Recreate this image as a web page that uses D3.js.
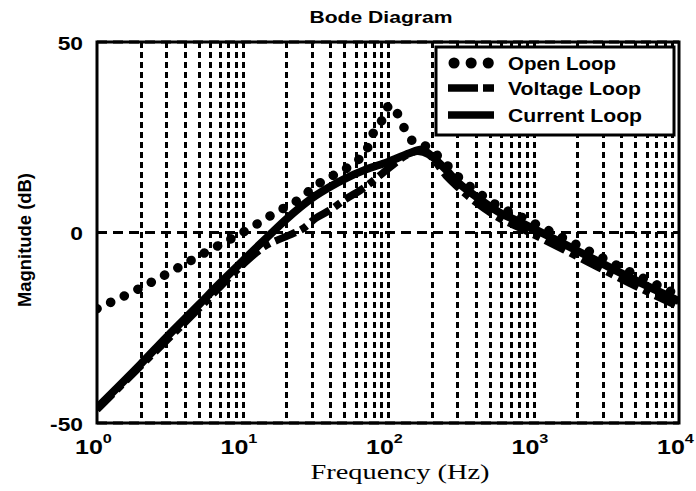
<!DOCTYPE html>
<html>
<head>
<meta charset="utf-8">
<script src="https://cdn.jsdelivr.net/npm/d3@7"></script>
<style>
html,body{margin:0;padding:0;background:#fff;}
svg{display:block;}
</style>
</head>
<body>
<svg id="chart" width="696" height="491"></svg>
<script>
// ---- data ----
const title = "Bode Diagram";
const xLabel = "Frequency (Hz)";
const yLabel = "Magnitude (dB)";
const xTickExps = [0, 1, 2, 3, 4];
const yTicks = [-50, 0, 50];
const seriesNames = ["Open Loop", "Voltage Loop", "Current Loop"];

const openFreq = [1, 2, 3.7, 5.7, 8.2, 10, 13.6, 17, 23, 29, 34, 47, 60, 72, 79, 91, 103, 117, 131, 148, 170, 200, 250, 300, 400, 600, 800, 1000, 2000, 5000, 10000];
const openMag  = [-20, -14.5, -9, -5, -1.8, 0, 3, 5.3, 8, 11, 13, 16, 18.5, 22, 26, 29.5, 33.5, 31, 27, 24, 23.3, 21.5, 18, 14.8, 11, 6.5, 4.3, 2.5, -3.3, -11, -16.5];

const voltFreq = [1, 2, 5, 10, 14, 20, 26, 32, 40, 50, 70, 92, 110, 130, 160, 190, 250, 300, 400, 600, 800, 1000, 2000, 5000, 10000];
const voltMag  = [-46.5, -35, -20, -8.5, -3.8, -1, 1, 3.8, 5.9, 8.5, 12, 15.6, 18, 20, 21.3, 20.5, 15, 12, 8, 3.5, 1.3, -0.5, -6.3, -14, -19.5];

const currFreq = [1, 2, 3, 5, 7, 10, 15, 20, 30, 40, 50, 70, 100, 140, 170, 200, 250, 300, 400, 600, 800, 1000, 2000, 5000, 10000];
const currMag  = [-46, -34.5, -27.5, -19, -13.3, -7.5, -1, 3.5, 9, 12, 14, 16.5, 18.5, 20.8, 21.8, 20, 16.5, 13.3, 9.5, 5, 2.8, 1, -4.8, -12.5, -18];

// ---- layout ----
const svg = d3.select("#chart");
const X0 = 97, X1 = 679, Y0 = 42, Y1 = 423;
const x = d3.scaleLog().domain([1, 1e4]).range([X0, X1]);
const y = d3.scaleLinear().domain([-50, 50]).range([Y1, Y0]);
const SANS = "'Liberation Sans', Arial, Helvetica, sans-serif";
const SERIF = "'Liberation Serif', 'Times New Roman', serif";

svg.append("defs").append("clipPath").attr("id", "plotclip")
  .append("rect").attr("x", X0).attr("y", Y0).attr("width", X1 - X0).attr("height", Y1 - Y0);

// grid
const gridG = svg.append("g");
const vGrid = x.ticks().filter(v => v > 1 && v < 1e4);
gridG.selectAll("line.v").data(vGrid).enter().append("line")
  .attr("x1", d => Math.round(x(d)) + 0.5).attr("x2", d => Math.round(x(d)) + 0.5)
  .attr("y1", Y0).attr("y2", Y1)
  .attr("stroke", "#000").attr("stroke-width", 3)
  .attr("stroke-dasharray", "6,4");
gridG.selectAll("line.h").data(yTicks).enter().append("line")
  .attr("x1", X0).attr("x2", X1)
  .attr("y1", d => y(d)).attr("y2", d => y(d))
  .attr("stroke", "#000").attr("stroke-width", 3)
  .attr("stroke-dasharray", "10,6");

// curves
const line = d3.line().x(d => x(d[0])).y(d => y(d[1])).curve(d3.curveMonotoneX);
const plotG = svg.append("g").attr("clip-path", "url(#plotclip)");
const styles = [
  {dash: "0.1,15", width: 9.5, cap: "round"},
  {dash: "22,6,7,6", width: 7.5, cap: "butt"},
  {dash: null, width: 8, cap: "butt"}
];
const series = [
  d3.zip(openFreq, openMag),
  d3.zip(voltFreq, voltMag),
  d3.zip(currFreq, currMag)
];
[2, 1, 0].forEach(i => {
  const p = plotG.append("path").datum(series[i])
    .attr("d", line).attr("fill", "none")
    .attr("stroke", "#000").attr("stroke-width", styles[i].width)
    .attr("stroke-linecap", styles[i].cap).attr("stroke-linejoin", "round");
  if (styles[i].dash) p.attr("stroke-dasharray", styles[i].dash);
});

// axes box
svg.append("rect").attr("x", X0).attr("y", Y0).attr("width", X1 - X0).attr("height", Y1 - Y0)
  .attr("fill", "none").attr("stroke", "#000").attr("stroke-width", 3);

// y axis labels
const yAxis = d3.axisLeft(y).tickValues(yTicks).tickSize(0).tickFormat(d => String(d));
const yg = svg.append("g").attr("transform", `translate(${X0},0)`).call(yAxis);
yg.select(".domain").remove();
yg.selectAll(".tick text")
  .attr("x", 0).attr("dy", null).attr("y", 0)
  .attr("text-anchor", "end")
  .attr("font-family", SANS).attr("font-weight", "bold").attr("font-size", 19)
  .attr("fill", "#000")
  .attr("transform", "translate(-14,7) scale(1.2,1)");

// x axis labels
const xTicks = xTickExps.map(e => Math.pow(10, e));
const xAxis = d3.axisBottom(x).tickValues(xTicks).tickSize(0).tickFormat(() => "");
const xg = svg.append("g").attr("transform", `translate(0,${Y1})`).call(xAxis);
xg.select(".domain").remove();
xg.selectAll(".tick").each(function(d, i) {
  const t = d3.select(this).append("text")
    .attr("transform", "translate(-4,31) scale(1.25,1)")
    .attr("text-anchor", "middle")
    .attr("font-family", SANS).attr("font-weight", "bold").attr("font-size", 20)
    .attr("fill", "#000");
  t.append("tspan").text("10");
  t.append("tspan").attr("dy", -11).attr("font-size", 13).text(String(xTickExps[i]));
});

// titles
svg.append("text").attr("x", 381).attr("y", 23).attr("text-anchor", "middle")
  .attr("font-family", SANS).attr("font-weight", "bold").attr("font-size", 17)
  .attr("textLength", 143).attr("lengthAdjust", "spacingAndGlyphs").text(title);
svg.append("text").attr("x", 400).attr("y", 479).attr("text-anchor", "middle")
  .attr("font-family", SERIF).attr("font-size", 21)
  .attr("textLength", 179).attr("lengthAdjust", "spacingAndGlyphs").text(xLabel);
svg.append("text").attr("transform", "translate(31,240) rotate(-90)").attr("text-anchor", "middle")
  .attr("font-family", SANS).attr("font-weight", "bold").attr("font-size", 19)
  .attr("textLength", 134).attr("lengthAdjust", "spacingAndGlyphs").text(yLabel);

// legend
const lg = svg.append("g");
lg.append("rect").attr("x", 436).attr("y", 47).attr("width", 238).attr("height", 88)
  .attr("fill", "#fff").attr("stroke", "#000").attr("stroke-width", 3);
const legY = [63, 88, 115];
const legW = [108, 133, 134];
seriesNames.forEach((name, i) => {
  const l = lg.append("line").attr("x1", i === 0 ? 454 : 448).attr("x2", i === 0 ? 490 : 494)
    .attr("y1", legY[i]).attr("y2", legY[i])
    .attr("stroke", "#000").attr("stroke-width", i === 0 ? 11 : 7.5)
    .attr("stroke-linecap", styles[i].cap);
  if (i === 0) l.attr("stroke-dasharray", "0.1,17");
  if (i === 1) l.attr("stroke-dasharray", "30,5,11,20");
  lg.append("text").attr("x", 508).attr("y", legY[i] + 7)
    .attr("font-family", SANS).attr("font-weight", "bold").attr("font-size", 19)
    .attr("textLength", legW[i]).attr("lengthAdjust", "spacingAndGlyphs").text(name);
});
</script>
</body>
</html>
